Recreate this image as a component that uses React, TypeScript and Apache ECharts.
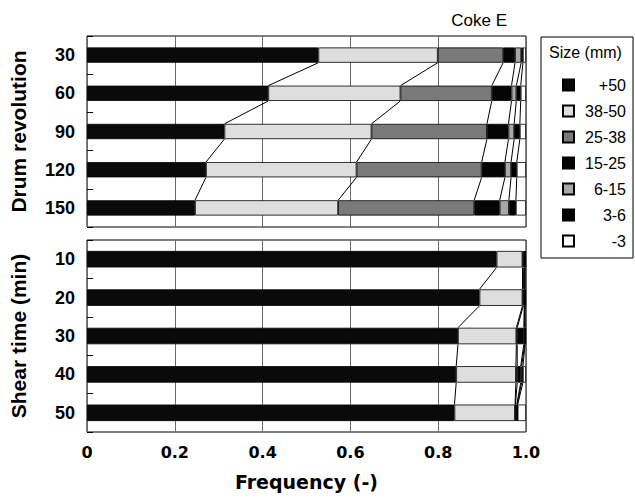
import React, { useEffect, useRef } from "react";
import * as echarts from "echarts";

const drumCats = ["30", "60", "90", "120", "150"];
const shearCats = ["10", "20", "30", "40", "50"];
const sizeClasses = ["+50", "38-50", "25-38", "15-25", "6-15", "3-6", "-3"];
const xTicks = [0, 0.2, 0.4, 0.6, 0.8, 1.0];

// Drum revolution panel (fraction of each size class)
const drumPlus50 = [0.527, 0.413, 0.313, 0.271, 0.246];
const drum38to50 = [0.272, 0.301, 0.335, 0.343, 0.326];
const drum25to38 = [0.149, 0.208, 0.263, 0.285, 0.31];
const drum15to25 = [0.027, 0.045, 0.049, 0.053, 0.058];
const drum6to15 = [0.014, 0.011, 0.013, 0.014, 0.021];
const drum3to6 = [0.004, 0.01, 0.013, 0.013, 0.016];
const drumMinus3 = [0.007, 0.012, 0.014, 0.021, 0.023];

// Shear time panel
const shearPlus50 = [0.933, 0.894, 0.845, 0.841, 0.837];
const shear38to50 = [0.059, 0.098, 0.133, 0.136, 0.138];
const shear25to38 = [0.002, 0.002, 0.002, 0.003, 0.001];
const shear15to25 = [0.002, 0.002, 0.015, 0.008, 0.003];
const shear6to15 = [0.001, 0.001, 0.002, 0.002, 0.001];
const shear3to6 = [0.001, 0.001, 0.001, 0.003, 0.001];
const shearMinus3 = [0.002, 0.002, 0.002, 0.007, 0.019];

const classColors = ["#0a0a0a", "#dedede", "#7a7a7a", "#050505", "#a8a8a8", "#000000", "#ffffff"];

const drumData = [drumPlus50, drum38to50, drum25to38, drum15to25, drum6to15, drum3to6, drumMinus3];
const shearData = [shearPlus50, shear38to50, shear25to38, shear15to25, shear6to15, shear3to6, shearMinus3];

function cumulative(data: number[][]): number[][] {
  const out: number[][] = [];
  for (let b = 0; b < data.length - 1; b++) {
    out.push(data[0].map((_, i) => {
      let s = 0;
      for (let k = 0; k <= b; k++) s += data[k][i];
      return s;
    }));
  }
  return out;
}

function connectorSeries(data: number[][], axisIndex: number, ratio: number) {
  const bounds = cumulative(data);
  const n = data[0].length;
  return {
    type: "custom",
    xAxisIndex: axisIndex,
    yAxisIndex: axisIndex,
    silent: true,
    z: 5,
    data: Array.from({ length: n - 1 }, (_, i) => [1, i]),
    encode: { x: 0, y: 1 },
    renderItem: (params: any, api: any) => {
      const i = params.dataIndex;
      const band = Math.abs(api.size([0, 1])[1]);
      const h = (band * ratio) / 2;
      const children = bounds.map((b) => {
        const p1 = api.coord([b[i], i]);
        const p2 = api.coord([b[i + 1], i + 1]);
        return {
          type: "line",
          shape: { x1: p1[0], y1: p1[1] + h, x2: p2[0], y2: p2[1] - h },
          style: { stroke: "#000", lineWidth: 1 },
        };
      });
      return { type: "group", children };
    },
  };
}

export default function App() {
  const ref = useRef<HTMLDivElement>(null);
  useEffect(() => {
    if (!ref.current) return;
    const chart = echarts.init(ref.current, null, { renderer: "svg" });
    const topRatio = 0.4;
    const botRatio = 0.43;
    const barSeries = (data: number[][], idx: number, ratio: number) =>
      sizeClasses.map((name, k) => ({
        type: "bar",
        name,
        stack: "s" + idx,
        xAxisIndex: idx,
        yAxisIndex: idx,
        barWidth: ratio * 100 + "%",
        data: data[k],
        itemStyle: { color: classColors[k], borderColor: "#000", borderWidth: 0.8 },
      }));

    const xAxisCommon = {
      type: "value",
      min: 0,
      max: 1,
      interval: 0.2,
      splitLine: { show: true, lineStyle: { color: "#6a6a6a", width: 1 } },
      axisLine: { show: false },
      axisTick: { show: false },
    };
    const yAxisCommon = {
      type: "category",
      inverse: true,
      axisLine: { show: false },
      axisTick: { show: true, inside: true, length: 6, lineStyle: { color: "#000" } },
      axisLabel: {
        fontFamily: "Liberation Sans",
        fontWeight: "bold",
        fontSize: 18,
        color: "#000",
        margin: 12,
      },
      nameLocation: "middle",
      nameRotate: 90,
      nameGap: 58,
      nameTextStyle: { fontFamily: "Liberation Sans", fontWeight: "bold", fontSize: 21, color: "#000" },
    };

    chart.setOption({
      animation: false,
      backgroundColor: "#fff",
      grid: [
        { left: 85, top: 36, width: 441, height: 191, show: true, borderColor: "#000", borderWidth: 1, backgroundColor: "transparent" },
        { left: 85, top: 240, width: 441, height: 192, show: true, borderColor: "#000", borderWidth: 1, backgroundColor: "transparent" },
      ],
      xAxis: [
        { ...xAxisCommon, gridIndex: 0, axisLabel: { show: false } },
        {
          ...xAxisCommon,
          gridIndex: 1,
          name: "Frequency (-)",
          nameLocation: "middle",
          nameGap: 40,
          nameTextStyle: { fontFamily: "DejaVu Sans", fontWeight: "bold", fontSize: 19, color: "#000" },
          axisLabel: {
            fontFamily: "DejaVu Sans",
            fontWeight: "bold",
            fontSize: 16,
            color: "#000",
            margin: 12,
            formatter: (v: number) => {
              const t = xTicks.find((x) => Math.abs(x - v) < 1e-6);
              if (t === undefined) return "";
              return t === 0 ? "0" : t.toFixed(1);
            },
          },
        },
      ],
      yAxis: [
        { ...yAxisCommon, gridIndex: 0, data: drumCats, name: "Drum revolution" },
        { ...yAxisCommon, gridIndex: 1, data: shearCats, name: "Shear time (min)" },
      ],
      legend: {
        data: sizeClasses,
        orient: "vertical",
        left: 557,
        top: 72,
        itemWidth: 11,
        itemHeight: 11,
        itemGap: 10,
        icon: "rect",
        selectedMode: false,
        formatter: (name: string) => `{t|${name}}`,
        textStyle: {
          color: "#000",
          fontFamily: "Liberation Sans",
          fontSize: 16,
          lineHeight: 16,
          rich: { t: { width: 47, align: "right", fontSize: 16, lineHeight: 16, fontFamily: "Liberation Sans", color: "#000" } },
        },
      },
      graphic: [
        { type: "rect", shape: { x: 541, y: 37, width: 92, height: 221 }, style: { fill: "none", stroke: "#000", lineWidth: 1 } },
        { type: "text", x: 549, y: 52, style: { text: "Size (mm)", fontFamily: "Liberation Sans", fontSize: 16, fill: "#000", textVerticalAlign: "middle" } },
        { type: "text", x: 507, y: 20, style: { text: "Coke E", fontFamily: "Liberation Sans", fontSize: 17, fill: "#000", textAlign: "right", textVerticalAlign: "middle" } },
      ],
      series: [
        ...barSeries(drumData, 0, topRatio),
        ...barSeries(shearData, 1, botRatio),
        connectorSeries(drumData, 0, topRatio),
        connectorSeries(shearData, 1, botRatio),
      ],
    } as any);
    return () => chart.dispose();
  }, []);
  return (
    <div
      ref={ref}
      style={{ position: "absolute", left: 0, top: 0, width: 635, height: 501, background: "#fff" }}
    />
  );
}
